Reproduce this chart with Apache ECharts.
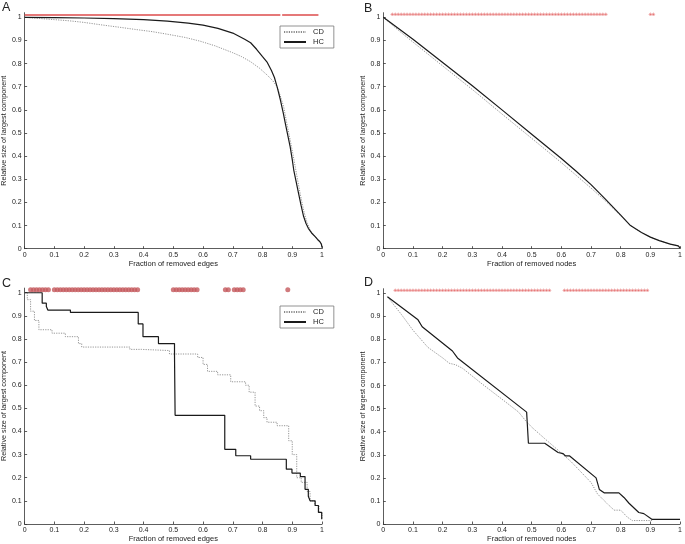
<!DOCTYPE html>
<html><head><meta charset="utf-8">
<script src="https://cdn.jsdelivr.net/npm/echarts@6/dist/echarts.min.js"></script>
<style>html,body{margin:0;padding:0;background:#fff}#c{width:685px;height:544px}</style>
</head><body><div id="c"></div>
<script>
// ---------- data ----------
const xTicks = [0,0.1,0.2,0.3,0.4,0.5,0.6,0.7,0.8,0.9,1];
const yTicks = [0,0.1,0.2,0.3,0.4,0.5,0.6,0.7,0.8,0.9,1];
const seriesNames = ['CD','HC'];
const panelLetters = ['A','B','C','D'];
const xTitles = ['Fraction of removed edges','Fraction of removed nodes','Fraction of removed edges','Fraction of removed nodes'];
const yTitle = 'Relative size of largest component';
const sigLevel = 1.013;

const aHC = [[0,1],[0.1,0.999],[0.2,0.997],[0.3,0.994],[0.4,0.99],[0.48,0.984],[0.55,0.975],[0.6,0.966],[0.65,0.952],[0.7,0.932],[0.74,0.905],[0.76,0.89],[0.78,0.862],[0.8,0.83],[0.816,0.805],[0.83,0.77],[0.84,0.74],[0.85,0.695],[0.86,0.643],[0.87,0.585],[0.877,0.54],[0.885,0.49],[0.893,0.44],[0.9,0.385],[0.905,0.34],[0.913,0.29],[0.921,0.24],[0.93,0.185],[0.938,0.14],[0.946,0.11],[0.954,0.088],[0.965,0.068],[0.977,0.052],[0.985,0.04],[0.993,0.03],[0.998,0.02],[1,0.005]];
const aCD = [[0,1],[0.05,0.995],[0.1,0.99],[0.15,0.985],[0.2,0.978],[0.26,0.967],[0.32,0.957],[0.37,0.948],[0.43,0.938],[0.48,0.927],[0.54,0.913],[0.59,0.897],[0.64,0.877],[0.7,0.847],[0.73,0.83],[0.76,0.808],[0.79,0.78],[0.816,0.75],[0.835,0.725],[0.849,0.7],[0.86,0.66],[0.871,0.614],[0.882,0.54],[0.893,0.47],[0.905,0.39],[0.916,0.311],[0.927,0.235],[0.938,0.167],[0.949,0.115],[0.96,0.08],[0.975,0.055],[0.993,0.03],[1,0.01]];
const aSigSeg1 = [[0,sigLevel-0.003],[0.86,sigLevel-0.003]];
const aSigSeg2 = [[0.866,sigLevel-0.003],[0.988,sigLevel-0.003]];

const bHC = [[0,1],[0.05,0.953],[0.1,0.905],[0.2,0.805],[0.3,0.704],[0.4,0.6],[0.5,0.495],[0.6,0.39],[0.65,0.335],[0.7,0.277],[0.75,0.212],[0.8,0.145],[0.833,0.1],[0.87,0.07],[0.9,0.05],[0.93,0.035],[0.967,0.02],[0.994,0.012],[1,0.003]];
const bCD = [[0,1],[0.05,0.945],[0.1,0.893],[0.2,0.79],[0.3,0.688],[0.4,0.582],[0.5,0.477],[0.6,0.372],[0.7,0.262],[0.75,0.205],[0.8,0.142],[0.833,0.1],[0.87,0.07],[0.9,0.05],[0.93,0.035],[0.967,0.02],[0.994,0.012],[1,0.003]];
const bSigX = [0.03,0.04,0.05,0.06,0.07,0.08,0.09,0.10,0.11,0.12,0.13,0.14,0.15,0.16,0.17,0.18,0.19,0.20,0.21,0.22,0.23,0.24,0.25,0.26,0.27,0.28,0.29,0.30,0.31,0.32,0.33,0.34,0.35,0.36,0.37,0.38,0.39,0.40,0.41,0.42,0.43,0.44,0.45,0.46,0.47,0.48,0.49,0.50,0.51,0.52,0.53,0.54,0.55,0.56,0.57,0.58,0.59,0.60,0.61,0.62,0.63,0.64,0.65,0.66,0.67,0.68,0.69,0.70,0.71,0.72,0.73,0.74,0.75,0.90,0.91];

const cHC = [[0,1],[0.059,0.955],[0.073,0.94],[0.078,0.925],[0.154,0.915],[0.382,0.865],[0.398,0.81],[0.45,0.78],[0.504,0.73],[0.506,0.47],[0.673,0.323],[0.71,0.295],[0.76,0.28],[0.88,0.237],[0.899,0.22],[0.927,0.205],[0.943,0.15],[0.954,0.12],[0.96,0.1],[0.977,0.08],[0.988,0.05],[0.999,0.02],[1,0.02]];
const cCD = [[0,1],[0.009,0.97],[0.02,0.92],[0.033,0.88],[0.048,0.84],[0.092,0.825],[0.137,0.81],[0.181,0.78],[0.192,0.765],[0.354,0.755],[0.393,0.75],[0.487,0.735],[0.582,0.72],[0.6,0.69],[0.615,0.66],[0.649,0.645],[0.693,0.615],[0.743,0.6],[0.755,0.57],[0.775,0.51],[0.79,0.49],[0.804,0.46],[0.815,0.44],[0.849,0.425],[0.888,0.36],[0.9,0.3],[0.915,0.2],[0.93,0.18],[0.95,0.14],[0.96,0.1],[0.975,0.08],[0.99,0.05],[1,0.02]];
const cSigX = [0.02,0.03,0.04,0.05,0.06,0.07,0.08,0.10,0.11,0.12,0.13,0.14,0.15,0.16,0.17,0.18,0.19,0.20,0.21,0.22,0.23,0.24,0.25,0.26,0.27,0.28,0.29,0.30,0.31,0.32,0.33,0.34,0.35,0.36,0.37,0.38,0.50,0.51,0.52,0.53,0.54,0.55,0.56,0.57,0.58,0.675,0.685,0.705,0.715,0.725,0.735,0.885];

const dHC = [[0.014,0.985],[0.117,0.885],[0.131,0.855],[0.233,0.75],[0.25,0.72],[0.483,0.485],[0.489,0.35],[0.544,0.35],[0.589,0.31],[0.606,0.305],[0.614,0.295],[0.628,0.295],[0.717,0.2],[0.728,0.15],[0.744,0.135],[0.794,0.135],[0.811,0.115],[0.828,0.09],[0.861,0.05],[0.878,0.045],[0.906,0.02],[1,0.02]];
const dCD = [[0.014,0.985],[0.06,0.91],[0.1,0.84],[0.15,0.766],[0.2,0.72],[0.222,0.697],[0.244,0.69],[0.267,0.675],[0.33,0.61],[0.411,0.53],[0.456,0.485],[0.478,0.45],[0.5,0.42],[0.544,0.37],[0.589,0.32],[0.633,0.27],[0.7,0.18],[0.722,0.13],[0.761,0.08],[0.778,0.06],[0.8,0.06],[0.822,0.03],[0.839,0.015],[0.906,0.015]];
const dSigX = [0.04,0.05,0.06,0.07,0.08,0.09,0.10,0.11,0.12,0.13,0.14,0.15,0.16,0.17,0.18,0.19,0.20,0.21,0.22,0.23,0.24,0.25,0.26,0.27,0.28,0.29,0.30,0.31,0.32,0.33,0.34,0.35,0.36,0.37,0.38,0.39,0.40,0.41,0.42,0.43,0.44,0.45,0.46,0.47,0.48,0.49,0.50,0.51,0.52,0.53,0.54,0.55,0.56,0.61,0.62,0.63,0.64,0.65,0.66,0.67,0.68,0.69,0.70,0.71,0.72,0.73,0.74,0.75,0.76,0.77,0.78,0.79,0.80,0.81,0.82,0.83,0.84,0.85,0.86,0.87,0.88,0.89];

// ---------- styling ----------
const FONT = 'Liberation Sans, Arial, sans-serif';
const AX = '#333';
const asterisk = 'path://M-1,-0.13L1,-0.13L1,0.13L-1,0.13Z M-0.13,-1L0.13,-1L0.13,1L-0.13,1Z M-0.78,-0.64L-0.64,-0.78L0.78,0.64L0.64,0.78Z M0.64,-0.78L0.78,-0.64L-0.64,0.78L-0.78,0.64Z';

const grids = [
  {left:22, top:12.7, width:300, height:236},
  {left:383.3, top:12.7, width:300, height:236},
  {left:22.3, top:288.1, width:299.7, height:236.9},
  {left:383.3, top:288.7, width:300, height:235.6}
];

function xAx(i){
  return {type:'value', gridIndex:i, min:0, max:1, interval:0.1,
    name:xTitles[i], nameLocation:'middle', nameGap:11,
    nameTextStyle:{fontFamily:FONT, fontSize:7.5, color:'#222'},
    axisLine:{show:true, onZero:false, lineStyle:{color:AX, width:0.8}},
    axisTick:{show:true, inside:true, length:2.5, customValues:xTicks, lineStyle:{color:AX, width:0.8}},
    axisLabel:{fontFamily:FONT, fontSize:7, color:'#222', margin:3, customValues:xTicks},
    splitLine:{show:false}};
}
function yAx(i){
  return {type:'value', gridIndex:i, min:0, max:1.02,
    name:yTitle, nameLocation:'middle', nameGap:12, nameRotate:90,
    nameTextStyle:{fontFamily:FONT, fontSize:7.2, color:'#222'},
    axisLine:{show:true, onZero:false, lineStyle:{color:AX, width:0.8}},
    axisTick:{show:true, inside:true, length:2.5, customValues:yTicks, lineStyle:{color:AX, width:0.8}},
    axisLabel:{fontFamily:FONT, fontSize:7, color:'#222', margin:3, customValues:yTicks},
    splitLine:{show:false}};
}

function cdSeries(i, data, step){
  return {name:seriesNames[0], type:'line', xAxisIndex:i, yAxisIndex:i, data:data, step:step||false,
    showSymbol:false, symbol:'none', silent:true, z:3,
    lineStyle:{color:'#8a8a8a', width:0.9, type:[1.2,1.2]}, itemStyle:{color:'#8a8a8a'}};
}
function hcSeries(i, data, step){
  return {name:seriesNames[1], type:'line', xAxisIndex:i, yAxisIndex:i, data:data, step:step||false,
    showSymbol:false, symbol:'none', silent:true, z:4,
    lineStyle:{color:'#1a1a1a', width:1.2}, itemStyle:{color:'#1a1a1a'}};
}
function sigScatter(i, xs, sym, size, color){
  return {type:'scatter', xAxisIndex:i, yAxisIndex:i, data:xs.map(x=>[x,sigLevel]),
    symbol:sym, symbolSize:size, silent:true, z:5, itemStyle:{color:color}};
}
function sigLine(i, data){
  return {type:'line', xAxisIndex:i, yAxisIndex:i, data:data, showSymbol:false, symbol:'none', silent:true, z:5,
    lineStyle:{color:'#dc4b4b', width:1.6}};
}

const legendBase = {orient:'vertical', itemWidth:22, itemHeight:8, itemGap:2,
  padding:[2,10,2,3], backgroundColor:'#fff', borderColor:'#777', borderWidth:0.8, borderRadius:0,
  itemStyle:{opacity:0, borderWidth:0},
  textStyle:{fontFamily:FONT, fontSize:7.5, color:'#222', padding:[0,0,0,2]}, data:seriesNames, selectedMode:false};

const option = {
  animation:false,
  backgroundColor:'#fff',
  title: panelLetters.map((t,k)=>({text:t, left:[2,364,2,364][k], top:[1,2,277,276][k], padding:0,
     textStyle:{fontFamily:FONT, fontSize:12.5, fontWeight:'normal', color:'#222'}})),
  legend:[Object.assign({left:280, top:26}, legendBase), Object.assign({left:280, top:306}, legendBase)],
  grid: grids,
  xAxis:[xAx(0),xAx(1),xAx(2),xAx(3)],
  yAxis:[yAx(0),yAx(1),yAx(2),yAx(3)],
  series:[
    cdSeries(0,aCD), hcSeries(0,aHC), sigLine(0,aSigSeg1), sigLine(0,aSigSeg2),
    cdSeries(1,bCD), hcSeries(1,bHC), sigScatter(1,bSigX,asterisk,3.6,'#e05555'),
    cdSeries(2,cCD,'end'), hcSeries(2,cHC,'end'), sigScatter(2,cSigX,'circle',5,'#c4595c'),
    cdSeries(3,dCD), hcSeries(3,dHC), sigScatter(3,dSigX,asterisk,3.6,'#e05555')
  ]
};
const chart = echarts.init(document.getElementById('c'), null, {renderer:'canvas'});
chart.setOption(option);
</script></body></html>
